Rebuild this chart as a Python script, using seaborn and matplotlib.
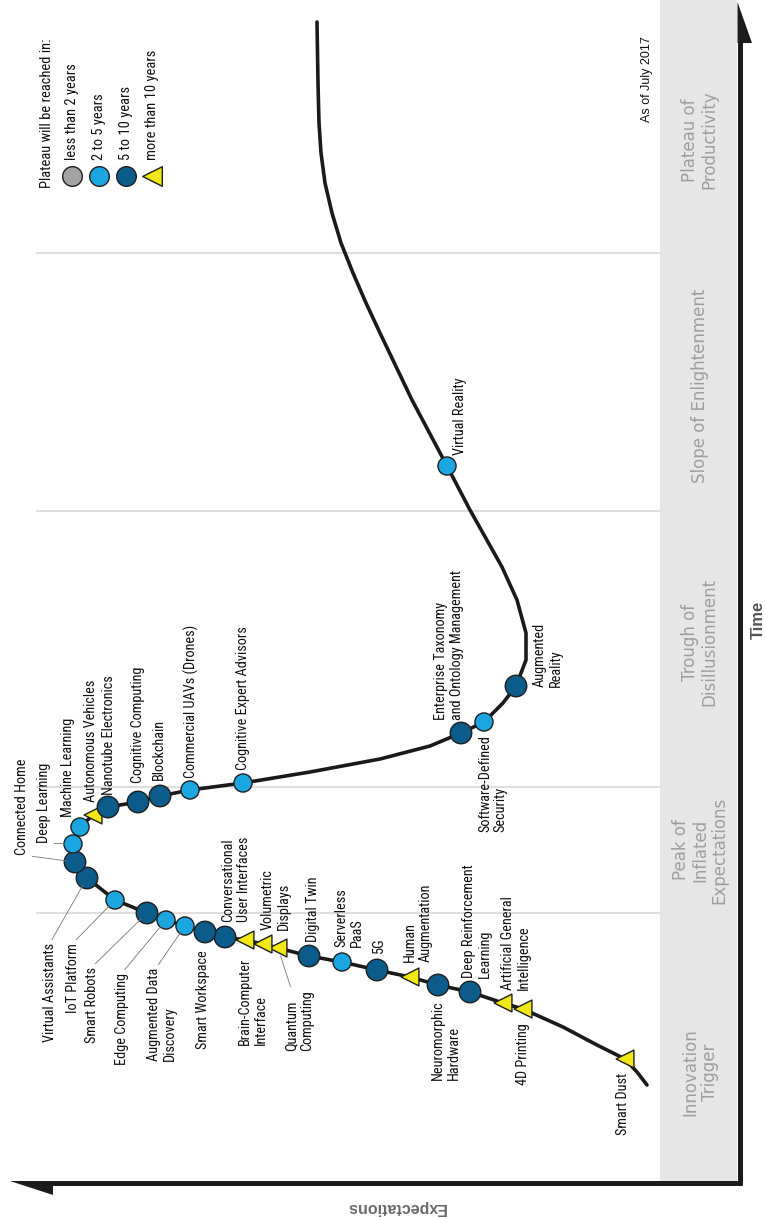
import pandas as pd
import seaborn as sns
import matplotlib.pyplot as plt
from matplotlib import font_manager
from matplotlib.textpath import TextPath

# Hype cycle 2017, drawn turned on its side: time runs up the page,
# expectations grow to the left.
tech_names = [
    'Smart Dust', '4D Printing', 'Artificial General\nIntelligence',
    'Deep Reinforcement\nLearning', 'Neuromorphic\nHardware', 'Human\nAugmentation',
    '5G', 'Serverless\nPaaS', 'Digital Twin', 'Quantum\nComputing',
    'Volumetric\nDisplays', 'Brain-Computer\nInterface',
    'Conversational\nUser Interfaces', 'Smart Workspace', 'Augmented Data\nDiscovery',
    'Edge Computing', 'Smart Robots', 'IoT Platform', 'Virtual Assistants',
    'Connected Home', 'Deep Learning', 'Machine Learning', 'Autonomous Vehicles',
    'Nanotube Electronics', 'Cognitive Computing', 'Blockchain',
    'Commercial UAVs (Drones)', 'Cognitive Expert Advisors',
    'Enterprise Taxonomy\nand Ontology Management', 'Software-Defined\nSecurity',
    'Augmented\nReality', 'Virtual Reality',
]
tech_time = [124, 174, 180, 191, 198, 206, 213, 221, 227, 235, 239, 243, 246, 251, 257,
             263, 270, 283, 305, 321, 339, 356, 368, 376, 381, 387, 393, 400, 450, 461,
             497, 717]
tech_expect = [115, 217, 237, 270, 302, 330, 363, 398, 431, 462, 477, 495, 515, 535, 555,
               574, 593, 625, 653, 665, 667, 660, 647, 632, 602, 580, 550, 497, 279, 256,
               224, 293]
tech_plateau = [
    'more than 10 years', 'more than 10 years', 'more than 10 years',
    '5 to 10 years', '5 to 10 years', 'more than 10 years',
    '5 to 10 years', '2 to 5 years', '5 to 10 years', 'more than 10 years',
    'more than 10 years', 'more than 10 years',
    '5 to 10 years', '5 to 10 years', '2 to 5 years',
    '2 to 5 years', '5 to 10 years', '2 to 5 years', '5 to 10 years',
    '5 to 10 years', '2 to 5 years', '2 to 5 years', 'more than 10 years',
    '5 to 10 years', '5 to 10 years', '5 to 10 years',
    '2 to 5 years', '2 to 5 years',
    '5 to 10 years', '2 to 5 years',
    '5 to 10 years', '2 to 5 years',
]

# the curve itself
curve_time = [98, 111, 124, 138, 156, 174, 180, 191, 198, 206, 213, 221, 227, 235, 239,
              243, 246, 251, 257, 263, 270, 283, 305, 321, 339, 356, 368, 376, 381, 387,
              393, 400, 411, 424, 437, 450, 461, 480, 497, 523, 550, 583, 616, 673, 717,
              783, 850, 880, 910, 940, 970, 1000, 1030, 1060, 1100, 1161]
curve_expect = [93, 103, 115, 143, 177, 217, 237, 270, 302, 330, 363, 398, 431, 462, 477,
                495, 515, 535, 555, 574, 593, 625, 653, 665, 667, 660, 647, 632, 602, 580,
                550, 497, 430, 360, 310, 279, 256, 237, 224, 214, 214, 223, 238, 270, 293,
                328, 360, 374, 387, 399, 408, 415, 419, 421, 422, 423]

phase_names = ['Innovation\nTrigger', 'Peak of\nInflated\nExpectations',
               'Trough of\nDisillusionment', 'Slope of Enlightenment',
               'Plateau of\nProductivity']
phase_centers = [111, 333, 541, 797, 1043]
phase_bounds = [270, 396, 672, 930]

legend_labels = ['less than 2 years', '2 to 5 years', '5 to 10 years', 'more than 10 years']

plateau_colors = {'less than 2 years': '#a3a3a3', '2 to 5 years': '#1ba6e2',
                  '5 to 10 years': '#0b5b8b', 'more than 10 years': '#f2e814'}
plateau_markers = {'less than 2 years': 'o', '2 to 5 years': 'o',
                   '5 to 10 years': 'o', 'more than 10 years': '<'}
plateau_sizes = {'less than 2 years': 190, '2 to 5 years': 170,
                 '5 to 10 years': 240, 'more than 10 years': 165}

# label placement: offset from the point in picture pixels (right, down),
# vertical anchor, and where a leader line leaves the text (None = no line)
label_layout = {
    'Smart Dust': (-2, 14, 'top', None),
    '4D Printing': (0, 14, 'top', None),
    'Artificial General\nIntelligence': (13, -13, 'bottom', None),
    'Deep Reinforcement\nLearning': (7, -14, 'bottom', None),
    'Neuromorphic\nHardware': (8, 15, 'top', None),
    'Human\nAugmentation': (8, -15, 'bottom', None),
    '5G': (2, -17, 'bottom', None),
    'Serverless\nPaaS': (7, -15, 'bottom', None),
    'Digital Twin': (4, -14, 'bottom', None),
    'Quantum\nComputing': (21, 42, 'top', (0.25, 1)),
    'Volumetric\nDisplays': (13, -14, 'bottom', None),
    'Brain-Computer\nInterface': (8, 18, 'top', None),
    'Conversational\nUser Interfaces': (11, -15, 'bottom', None),
    'Smart Workspace': (-2, 18, 'top', None),
    'Augmented Data\nDiscovery': (-23, 42, 'top', (0.3, 1)),
    'Edge Computing': (-44, 53, 'top', (0.5, 1)),
    'Smart Robots': (-55, 54, 'top', (0.5, 1)),
    'IoT Platform': (-42, 43, 'top', (0.5, 1)),
    'Virtual Assistants': (-37, 65, 'top', (0.5, 1)),
    'Connected Home': (-53, -7, 'bottom', (0.5, 0)),
    'Deep Learning': (-29, -1, 'bottom', (0.5, 0)),
    'Machine Learning': (-12, -10, 'bottom', None),
    'Autonomous Vehicles': (-2, -13, 'bottom', None),
    'Nanotube Electronics': (1, -12, 'bottom', None),
    'Cognitive Computing': (0, -19, 'bottom', None),
    'Blockchain': (-1, -16, 'bottom', None),
    'Commercial UAVs (Drones)': (1, -12, 'bottom', None),
    'Cognitive Expert Advisors': (0, -13, 'bottom', None),
    'Enterprise Taxonomy\nand Ontology Management': (-12, -13, 'bottom', None),
    'Software-Defined\nSecurity': (9, 13, 'top', None),
    'Augmented\nReality': (32, 1, 'bottom', None),
    'Virtual Reality': (13, -11, 'bottom', None),
}

sns.set_style('white')

# pick the narrowest sans that is installed and size it to the reference
installed = {f.name for f in font_manager.fontManager.ttflist}
label_font = next(f for f in ['Liberation Sans Narrow', 'Roboto Condensed',
                              'Open Sans Condensed', 'Liberation Sans', 'DejaVu Sans']
                  if f in installed)
plt.rcParams['font.family'] = [label_font, 'DejaVu Sans']


def fit_size(text, width_px):
    w = TextPath((0, 0), text, size=10,
                 prop=font_manager.FontProperties(family=label_font)).get_extents().width
    return 10 * width_px * 0.72 / w


label_size = fit_size('Cognitive Expert Advisors', 142)
legend_size = fit_size('Plateau will be reached in:', 148)

df = pd.DataFrame({'name': tech_names, 'time': tech_time,
                   'expectation': tech_expect, 'plateau': tech_plateau})

fig = plt.figure(figsize=(7.65, 12.18), dpi=100)
ax = fig.add_axes([0, 0, 1, 1])
ax.set_xlim(740, -25)
ax.set_ylim(-35, 1183)
ax.set_axis_off()


def img(x, y):
    # picture pixel -> data coordinates (for decorations only)
    return 740 - x, 1183 - y


# grey phase band and phase dividers
ax.fill_between([2.5, 80], 2.5, 1183, color='#e6e6e6', lw=0, zorder=0)
for t in phase_bounds:
    ax.plot([703, 80], [t, t], color='#dedede', lw=1.5, zorder=0)
for name, c in zip(phase_names, phase_centers):
    ax.text(40, c, name, rotation=90, ha='center', va='center', multialignment='center',
            color='#9e9e9e', fontsize=12, family='DejaVu Sans', linespacing=1.1)

# axes with half arrow heads
ax.plot([0, 0], [-2, 1141], color='#1c1c1c', lw=3.6, solid_capstyle='butt', zorder=1)
ax.plot([-2, 688], [0, 0], color='#1c1c1c', lw=3.6, solid_capstyle='butt', zorder=1)
ax.fill([2.5, -12, 2.5], [1181, 1140, 1140], color='#1c1c1c', lw=0)
ax.fill([730, 687, 687], [2.5, 2.5, -12], color='#1c1c1c', lw=0)

ax.text(*img(758, 620), 'Time', rotation=90, ha='center', va='center',
        family='Liberation Sans', weight='bold', fontsize=12, color='#555555')
ax.text(*img(396, 1208), 'Expectations', rotation=180, ha='center', va='center',
        family='Liberation Sans', weight='bold', fontsize=11.5, color='#6a6a6a')
ax.text(*img(647, 79), 'As of July 2017', rotation=90, ha='center', va='center',
        family='Liberation Sans', fontsize=9, color='#111111')

# the curve and the technologies on it
sns.lineplot(x=curve_expect, y=curve_time, orient='y', estimator=None,
             color='#1a1a1a', lw=2.6, ax=ax, zorder=2)
sns.scatterplot(data=df, x='expectation', y='time', hue='plateau', style='plateau',
                size='plateau', palette=plateau_colors, markers=plateau_markers,
                sizes=plateau_sizes, edgecolor='#1f1f1f', linewidth=1.0,
                legend=False, ax=ax, zorder=3)

for _, row in df.iterrows():
    dx, dy, va, relpos = label_layout[row['name']]
    arrow = None
    if relpos is not None:
        arrow = dict(arrowstyle='-', color='#777777', lw=0.6, relpos=relpos,
                     shrinkA=0, shrinkB=6)
    ax.annotate(row['name'], xy=(row['expectation'], row['time']), xytext=(dx, -dy),
                textcoords='offset pixels', rotation=90, ha='center', va=va,
                multialignment='left', fontsize=label_size, linespacing=1.15,
                color='#111111', arrowprops=arrow, zorder=4)

# legend, laid out sideways like the rest
ax.text(*img(47, 188), 'Plateau will be reached in:', rotation=90, ha='center',
        va='bottom', fontsize=legend_size, color='#111111')
for lab, x in zip(legend_labels, [72, 99, 126, 152]):
    ax.scatter(*img(x, 176), s=200, marker=plateau_markers[lab], color=plateau_colors[lab],
               edgecolor='#1f1f1f', linewidth=1.0, zorder=3)
    ax.text(*img(x, 160), lab, rotation=90, ha='center', va='bottom', fontsize=legend_size,
            color='#111111')

fig.savefig('out.png', dpi=100)
